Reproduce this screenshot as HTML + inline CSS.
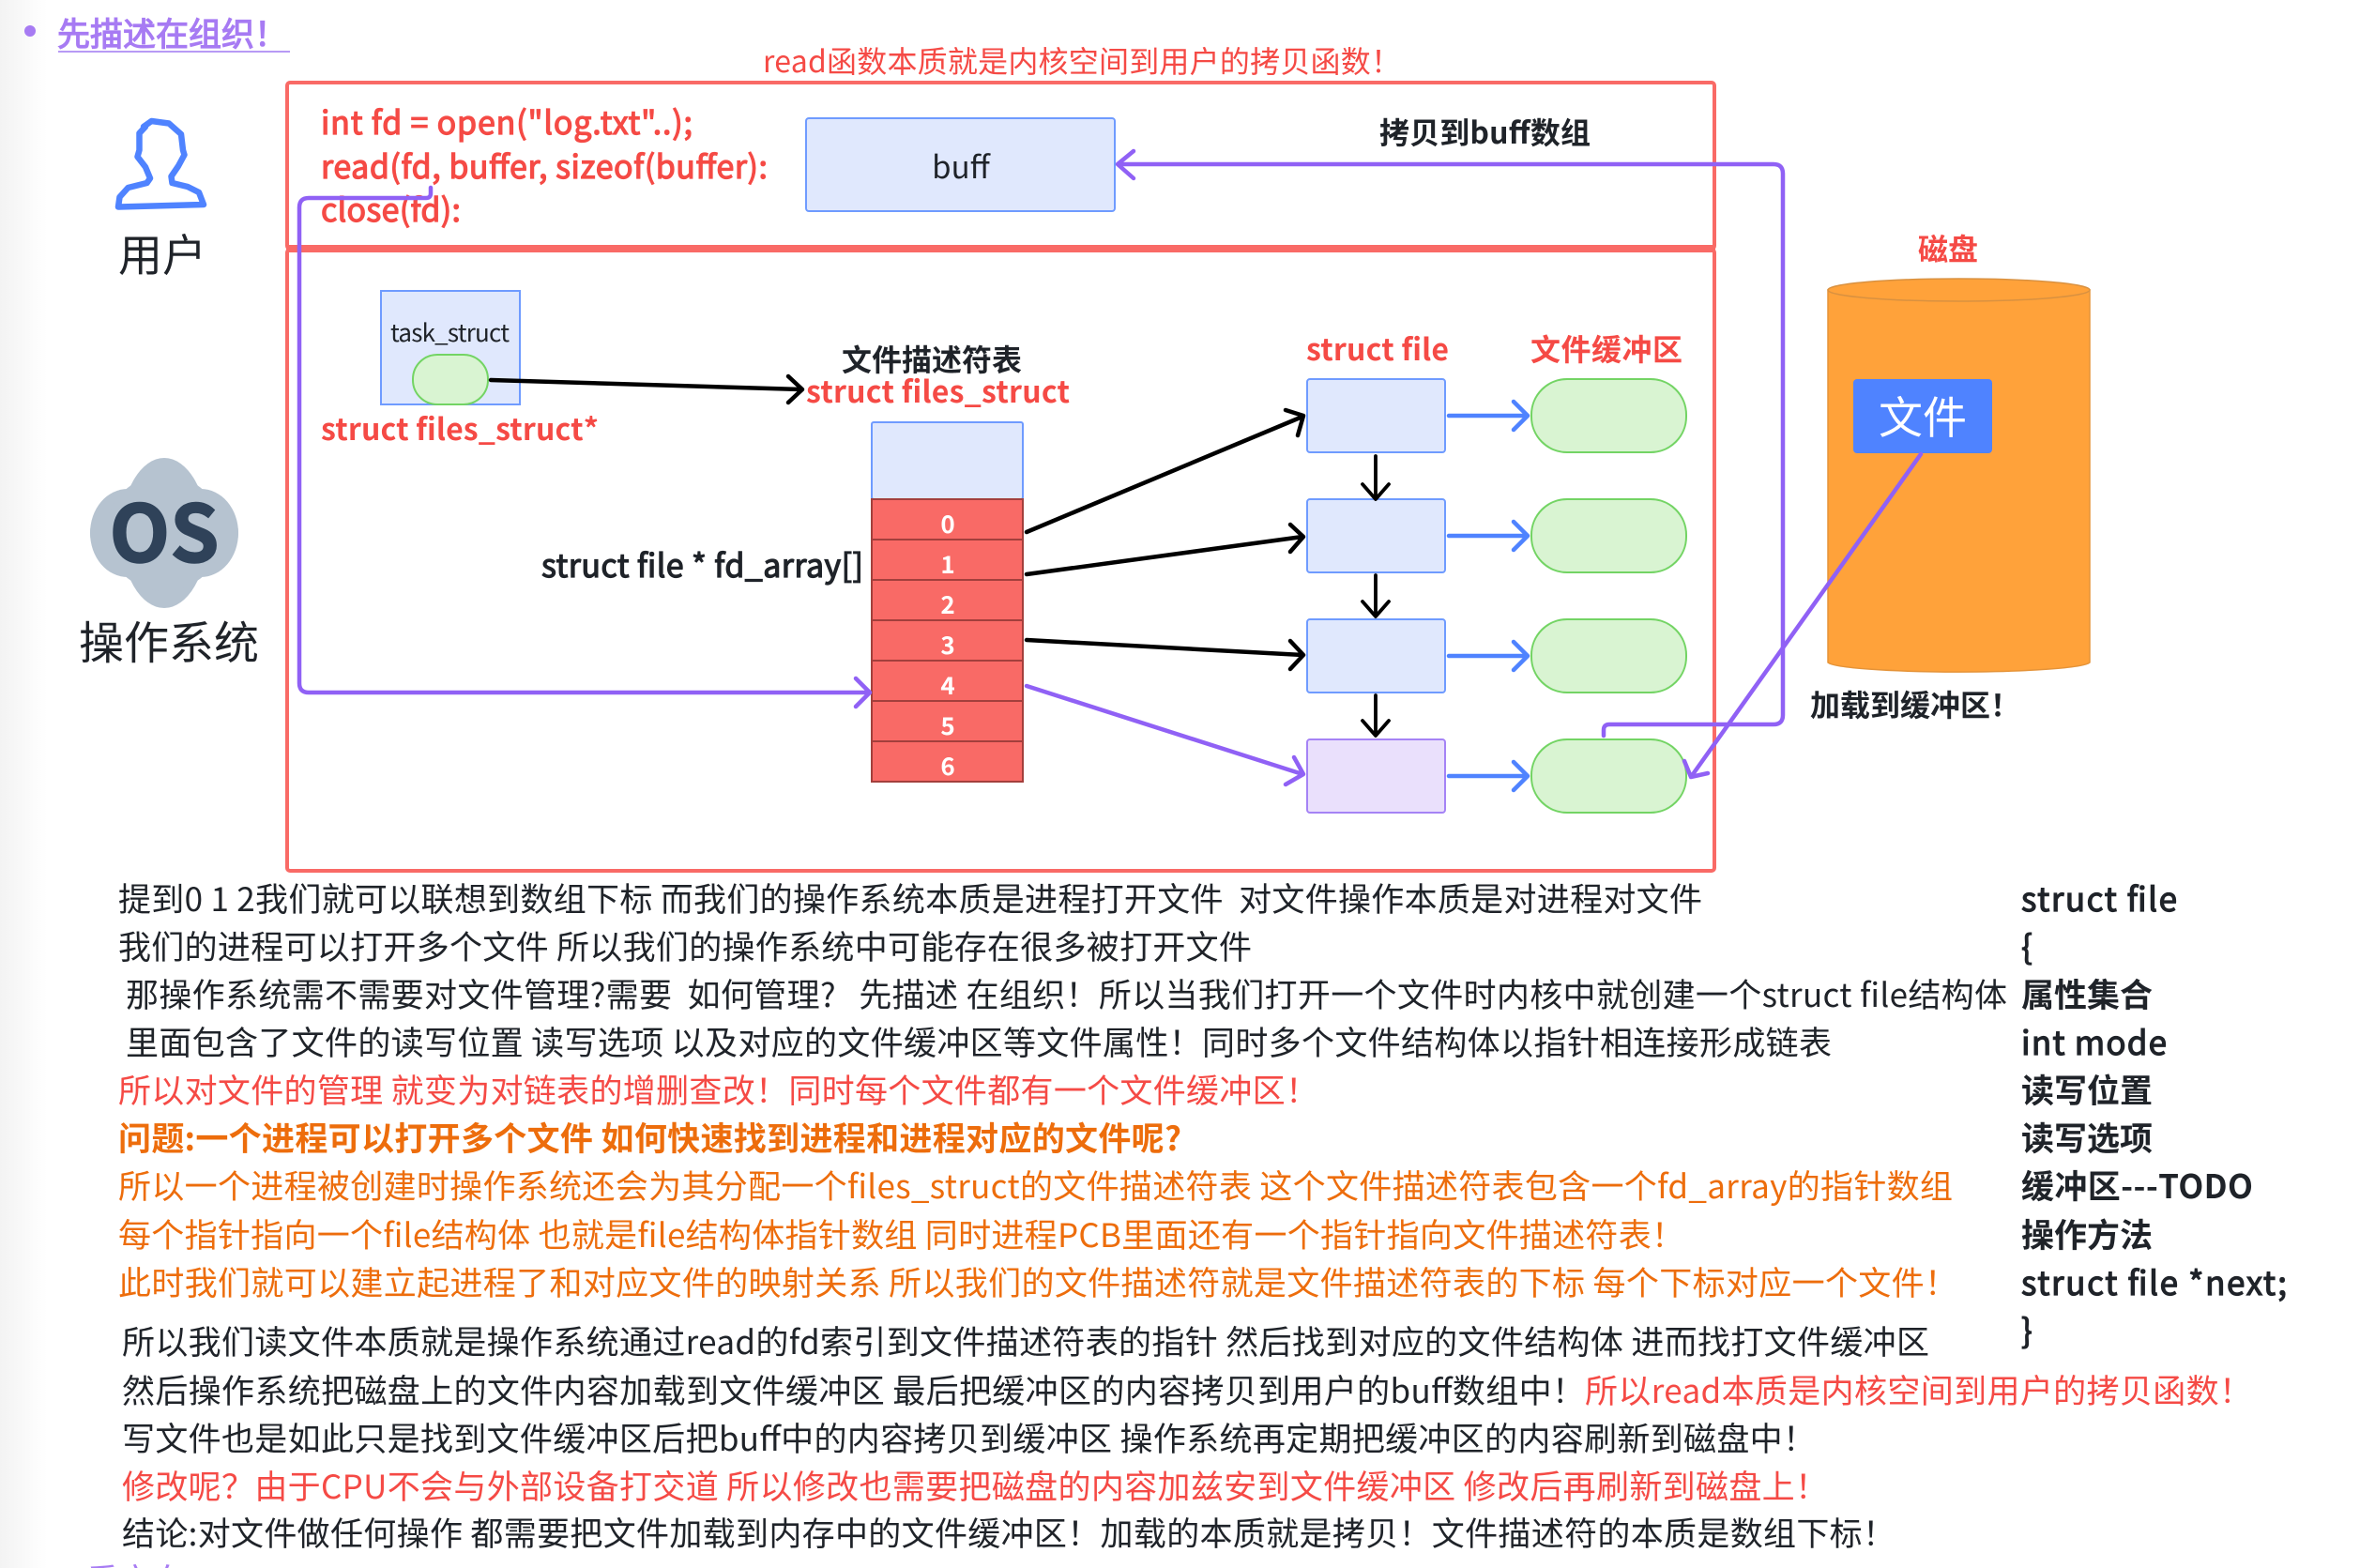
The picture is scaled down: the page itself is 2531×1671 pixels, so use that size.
<!DOCTYPE html>
<html><head><meta charset="utf-8"><style>
html,body{margin:0;padding:0;background:#fff;width:2531px;height:1671px;overflow:hidden}
svg{display:block}
text{font-family:"Noto Sans CJK SC","Liberation Sans",sans-serif;white-space:pre;fill:#1f2329}
.b{font-size:35px}
.r{fill:#f54a45}
.o{fill:#ed6d0c}
.bd{font-weight:700}
.l{font-size:32px;font-weight:700}
.w{fill:#fff;font-size:26px;font-weight:700;text-anchor:middle}
.m{stroke:#1f2329;stroke-width:1.2px}
.m.r{stroke:#f54a45}
.p{fill:#a77bf3;stroke:#a77bf3;stroke-width:1.2px}
</style></head><body>
<svg width="2531" height="1671" viewBox="0 0 2531 1671" xmlns="http://www.w3.org/2000/svg">
<defs><linearGradient id="g" x1="0" x2="1" y1="0" y2="0"><stop offset="0" stop-color="#f3f3f3"/><stop offset="1" stop-color="#fff"/></linearGradient></defs>
<rect x="0" y="0" width="50" height="1671" fill="url(#g)"/>

<circle cx="32" cy="33" r="6" fill="#a77bf3"/>
<text x="61" y="49" font-size="35" class="p">先描述在组织！</text>
<rect x="62" y="54" width="247" height="2" fill="#b79af5"/>
<text x="813" y="77" font-size="32" class="r" textLength="680">read函数本质就是内核空间到用户的拷贝函数！</text>

<!-- red boxes -->
<rect x="306" y="88" width="1521" height="177" rx="3" fill="none" stroke="#f96a66" stroke-width="4"/>
<rect x="306" y="266" width="1521" height="662" rx="3" fill="none" stroke="#f96a66" stroke-width="4"/>
<rect x="305" y="261" width="1523" height="8" fill="#f96a66"/>

<!-- user icon -->
<path d="M153 135 L161.500 129 L180 131.500 L193 143 L195 160 L196.500 165 L190 177 L182.500 188 L183.500 195 L200 199 L212 205 L217 218 L126 220.500 L127.500 210 L136.500 200 L156.500 195 L160 190 L155 178 L146.500 167 L148.500 160 L148.500 142 L155 135 Z" fill="#fff" stroke="#4f83ff" stroke-width="6.500" stroke-linejoin="round"/>
<text x="126" y="289" font-size="47">用户</text>

<!-- OS icon -->
<g fill="#b6c3d0">
<ellipse cx="175" cy="568" rx="46" ry="80"/>
<ellipse cx="175" cy="568" rx="79" ry="48"/>
<ellipse cx="136" cy="568" rx="40" ry="47"/>
<ellipse cx="214" cy="568" rx="40" ry="47"/>
<ellipse cx="175" cy="568" rx="62" ry="62"/>
</g>
<text x="175" y="599" font-size="84" font-weight="700" text-anchor="middle" style="fill:#2f4259;stroke:#2f4259;stroke-width:1.5px">OS</text>
<text x="84" y="702" font-size="48">操作系统</text>

<!-- code -->
<text x="342" y="143" font-size="34" class="r m" textLength="396">int fd = open("log.txt"..);</text>
<text x="342" y="190" font-size="34" class="r m" textLength="476">read(fd, buffer, sizeof(buffer):</text>
<text x="342" y="236" font-size="34" class="r m" textLength="149">close(fd):</text>

<!-- buff -->
<rect x="859" y="126" width="329" height="99" rx="3" fill="#e0e8fd" stroke="#6f9bff" stroke-width="2"/>
<text x="1024" y="190" font-size="33" text-anchor="middle">buff</text>
<text x="1470" y="153" class="l" textLength="225">拷贝到buff数组</text>

<!-- task_struct -->
<rect x="406" y="310" width="148" height="121" fill="#e0e8fd" stroke="#6f9bff" stroke-width="2"/>
<text x="416" y="364" font-size="26" textLength="127">task_struct</text>
<rect x="440" y="378" width="80" height="53" rx="26" fill="#d9f4d2" stroke="#73d464" stroke-width="2"/>
<text x="342" y="469" class="l r" textLength="296">struct files_struct*</text>

<text x="897" y="395" class="l">文件描述符表</text>
<text x="859" y="429" class="l r" textLength="281">struct files_struct</text>
<text x="1392" y="384" class="l r" textLength="152">struct file</text>
<text x="1631" y="384" class="l r" textLength="162">文件缓冲区</text>
<text x="2044" y="277" class="l r">磁盘</text>
<text x="577" y="615" font-size="34" class="m" textLength="343">struct file * fd_array[]</text>

<!-- fd table -->
<rect x="929" y="450" width="161" height="82" rx="2" fill="#e0e8fd" stroke="#6f9bff" stroke-width="2"/>
<g fill="#f96a66" stroke="#a33f3c" stroke-width="2">
<rect x="929" y="532" width="161" height="43"/>
<rect x="929" y="575" width="161" height="43"/>
<rect x="929" y="618" width="161" height="43"/>
<rect x="929" y="661" width="161" height="43"/>
<rect x="929" y="704" width="161" height="43"/>
<rect x="929" y="747" width="161" height="43"/>
<rect x="929" y="790" width="161" height="43"/>
</g>
<text class="w" x="1010" y="568">0</text>
<text class="w" x="1010" y="611">1</text>
<text class="w" x="1010" y="654">2</text>
<text class="w" x="1010" y="697">3</text>
<text class="w" x="1010" y="740">4</text>
<text class="w" x="1010" y="783">5</text>
<text class="w" x="1010" y="826">6</text>

<!-- struct file boxes -->
<g fill="#e0e8fd" stroke="#6f9bff" stroke-width="2">
<rect x="1393" y="404" width="147" height="78" rx="3"/>
<rect x="1393" y="532" width="147" height="78" rx="3"/>
<rect x="1393" y="660" width="147" height="78" rx="3"/>
</g>
<rect x="1393" y="788" width="147" height="78" rx="3" fill="#eae0fc" stroke="#a583f5" stroke-width="2"/>
<g fill="#d9f4d2" stroke="#73d464" stroke-width="2">
<rect x="1632" y="404" width="165" height="78" rx="38"/>
<rect x="1632" y="532" width="165" height="78" rx="38"/>
<rect x="1632" y="660" width="165" height="78" rx="38"/>
<rect x="1632" y="788" width="165" height="78" rx="38"/>
</g>

<!-- blue arrows -->
<g fill="none" stroke="#4f83ff" stroke-width="4.500" stroke-linecap="round" stroke-linejoin="round">
<path d="M1544 443H1627M1613 428L1628 443L1613 458"/>
<path d="M1544 571H1627M1613 556L1628 571L1613 586"/>
<path d="M1544 699H1627M1613 684L1628 699L1613 714"/>
<path d="M1544 827H1627M1613 812L1628 827L1613 842"/>
</g>

<!-- black arrows -->
<g fill="none" stroke="#000" stroke-linecap="round" stroke-linejoin="round">
<g stroke-width="3.800">
<path d="M1466 486V531M1452 516L1466 532L1480 516"/>
<path d="M1466 613V656M1452 641L1466 657L1480 641"/>
<path d="M1466 741V783M1452 768L1466 784L1480 768"/>
</g>
<g stroke-width="4.500">
<path d="M523 405L854 415M840 401L855 415L840 429"/>
<path d="M1094 567L1388 444M1370 437L1389 443L1383 464"/>
<path d="M1094 612L1388 572M1375 559L1389 572L1375 588"/>
<path d="M1094 682L1388 698M1375 683L1389 698L1375 713"/>
</g>
</g>

<!-- cylinder -->
<path d="M1948 309V706A140 11 0 0 0 2227 706V309Z" fill="#ffa23a" stroke="#e59338" stroke-width="1.500"/>
<ellipse cx="2087.500" cy="309" rx="139.500" ry="12" fill="#ffa23a" stroke="#d99140" stroke-width="1.500"/>
<rect x="1975" y="404" width="148" height="79" rx="4" fill="#4f83ff"/>
<text x="2049" y="462" font-size="47" text-anchor="middle" style="fill:#fff">文件</text>
<text x="1929" y="763" class="l">加载到缓冲区！</text>

<!-- purple -->
<g fill="none" stroke="#9061f5" stroke-width="4.500" stroke-linecap="round" stroke-linejoin="round">
<path d="M459 200V206Q459 211 454 211H329Q319 211 319 221V728Q319 738 329 738H926M912 723L927 738L912 753"/>
<path d="M1192 175H1890Q1900 175 1900 185V762Q1900 772 1890 772H1715Q1709 772 1709 778V784"/>
<path d="M1208 161L1191 175L1208 190"/>
<path d="M1094 731L1388 825M1379 807L1389 825L1370 836"/>
<path d="M2047 484L1802 828M1795 811L1802 828L1820 824"/>
</g>

<!-- body text -->
<text class="b" x="126" y="971" textLength="1688">提到0 1 2我们就可以联想到数组下标 而我们的操作系统本质是进程打开文件  对文件操作本质是对进程对文件</text>
<text class="b" x="126" y="1022" textLength="1208">我们的进程可以打开多个文件 所以我们的操作系统中可能存在很多被打开文件</text>
<text class="b" x="134" y="1073" textLength="2005">那操作系统需不需要对文件管理?需要  如何管理?   先描述 在组织！所以当我们打开一个文件时内核中就创建一个struct file结构体</text>
<text class="b" x="134" y="1124" textLength="1818">里面包含了文件的读写位置 读写选项 以及对应的文件缓冲区等文件属性！同时多个文件结构体以指针相连接形成链表</text>
<text class="b r" x="126" y="1175" textLength="1279">所以对文件的管理 就变为对链表的增删查改！同时每个文件都有一个文件缓冲区！</text>
<text class="b o bd" x="126" y="1226" textLength="1133">问题:一个进程可以打开多个文件 如何快速找到进程和进程对应的文件呢?</text>
<text class="b o" x="126" y="1277" textLength="1955">所以一个进程被创建时操作系统还会为其分配一个files_struct的文件描述符表 这个文件描述符表包含一个fd_array的指针数组</text>
<text class="b o" x="126" y="1329" textLength="1669">每个指针指向一个file结构体 也就是file结构体指针数组 同时进程PCB里面还有一个指针指向文件描述符表！</text>
<text class="b o" x="126" y="1380" textLength="1960">此时我们就可以建立起进程了和对应文件的映射关系 所以我们的文件描述符就是文件描述符表的下标 每个下标对应一个文件！</text>
<text class="b" x="130" y="1443" textLength="1926">所以我们读文件本质就是操作系统通过read的fd索引到文件描述符表的指针 然后找到对应的文件结构体 进而找打文件缓冲区</text>
<text class="b" x="130" y="1495" textLength="1559">然后操作系统把磁盘上的文件内容加载到文件缓冲区 最后把缓冲区的内容拷贝到用户的buff数组中！</text>
<text class="b r" x="1689" y="1495" textLength="711">所以read本质是内核空间到用户的拷贝函数！</text>
<text class="b" x="130" y="1546" textLength="1805">写文件也是如此只是找到文件缓冲区后把buff中的内容拷贝到缓冲区 操作系统再定期把缓冲区的内容刷新到磁盘中！</text>
<text class="b r" x="130" y="1597" textLength="1818">修改呢？由于CPU不会与外部设备打交道 所以修改也需要把磁盘的内容加兹安到文件缓冲区 修改后再刷新到磁盘上！</text>
<text class="b" x="130" y="1647" textLength="1890">结论:对文件做任何操作 都需要把文件加载到内存中的文件缓冲区！加载的本质就是拷贝！文件描述符的本质是数组下标！</text>
<text class="b" x="92" y="1697" style="fill:#a77bf3">重定向</text>

<!-- right column -->
<text class="b m" x="2154" y="971" textLength="166">struct file</text>
<text class="b m" x="2154" y="1022">{</text>
<text class="b bd" x="2154" y="1073">属性集合</text>
<text class="b m" x="2154" y="1124" textLength="155">int mode</text>
<text class="b bd" x="2154" y="1175">读写位置</text>
<text class="b bd" x="2154" y="1226">读写选项</text>
<text class="b bd" x="2154" y="1277" textLength="247">缓冲区---TODO</text>
<text class="b bd" x="2154" y="1329">操作方法</text>
<text class="b m" x="2154" y="1380" textLength="283">struct file *next;</text>
<text class="b m" x="2154" y="1431">}</text>
</svg>
</body></html>
